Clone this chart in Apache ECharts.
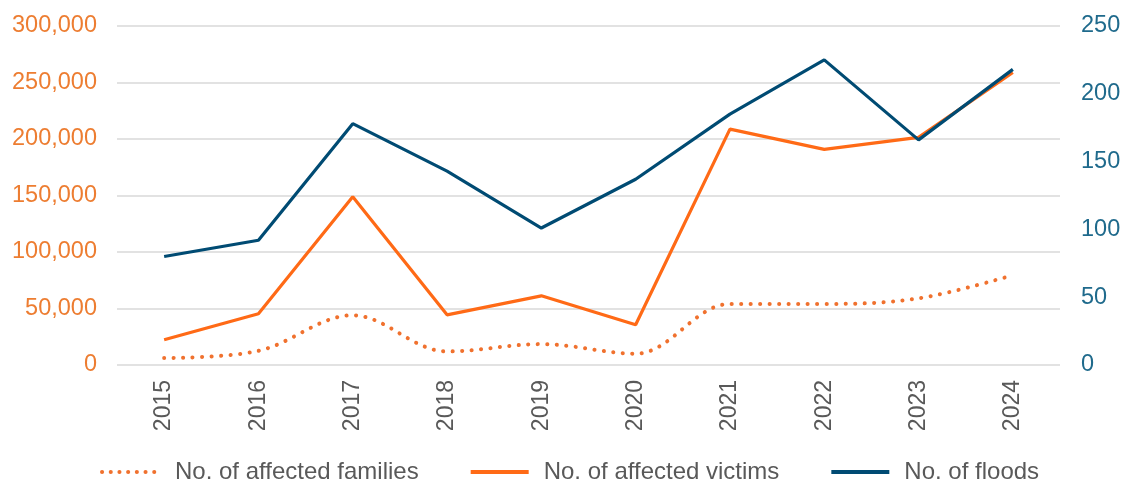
<!DOCTYPE html>
<html>
<head>
<meta charset="utf-8">
<script src="https://cdn.jsdelivr.net/npm/echarts@6/dist/echarts.min.js"></script>
<style>
  html, body { margin: 0; padding: 0; background: #fff; }
  #chart { width: 1124px; height: 484px; }
</style>
</head>
<body>
<div id="chart"></div>
<script>
// Flood impact per year
const years = ['2015', '2016', '2017', '2018', '2019', '2020', '2021', '2022', '2023', '2024'];
const affectedFamilies = [6200, 12500, 44000, 12000, 18500, 10000, 54000, 54000, 59000, 79500];
const affectedVictims = [22400, 45300, 149000, 44400, 61200, 35600, 208700, 190800, 201400, 258800];
const floods = [80, 92, 178, 143, 101, 137, 185, 225, 166, 218];

const leftTicks = { min: 0, max: 300000, interval: 50000 };
const rightTicks = { min: 0, max: 250, interval: 50 };

const FONT = '"Liberation Sans", Arial, sans-serif';
const GREY = '#595959';
const C_FAMILIES = '#F0712E';
const C_VICTIMS = '#FF6A16';
const C_FLOODS = '#004B73';

const chart = echarts.init(document.getElementById('chart'), null, { renderer: 'canvas' });
chart.setOption({
  animation: false,
  backgroundColor: '#ffffff',
  textStyle: { fontFamily: FONT },
  grid: { left: 117, right: 64, top: 26, bottom: 119, containLabel: false },
  legend: {
    bottom: 0,
    left: 100,
    padding: 0,
    itemWidth: 58,
    itemHeight: 14,
    itemGap: 50,
    itemStyle: { opacity: 0 },
    textStyle: { fontFamily: FONT, fontSize: 24, color: GREY, padding: [0, 0, 0, 10] },
    data: [
      { name: 'No. of affected families', lineStyle: { color: C_FAMILIES, width: 4, type: [0.1, 8.6], cap: 'round' } },
      { name: 'No. of affected victims', lineStyle: { color: C_VICTIMS, width: 4 } },
      { name: 'No. of floods', lineStyle: { color: C_FLOODS, width: 4 } }
    ]
  },
  xAxis: {
    type: 'category',
    data: years,
    boundaryGap: true,
    axisLine: { show: false },
    axisTick: { show: false },
    axisLabel: { rotate: 90, margin: 15, fontFamily: FONT, fontSize: 23, color: GREY }
  },
  yAxis: [
    {
      type: 'value',
      position: 'left',
      min: leftTicks.min,
      max: leftTicks.max,
      interval: leftTicks.interval,
      axisLine: { show: false },
      axisTick: { show: false },
      splitLine: { lineStyle: { color: '#D9D9D9', width: 1.5 } },
      axisLabel: {
        margin: 20,
        fontFamily: FONT,
        fontSize: 23.5,
        color: '#ED7D31',
        formatter: v => v.toLocaleString('en-US')
      }
    },
    {
      type: 'value',
      position: 'right',
      min: rightTicks.min,
      max: rightTicks.max,
      interval: rightTicks.interval,
      axisLine: { show: false },
      axisTick: { show: false },
      splitLine: { show: false },
      axisLabel: { margin: 21, fontFamily: FONT, fontSize: 23.5, color: '#1F6A8C' }
    }
  ],
  series: [
    {
      name: 'No. of affected families',
      type: 'line',
      yAxisIndex: 0,
      data: affectedFamilies,
      smooth: 0.35,
      symbol: 'none',
      itemStyle: { color: C_FAMILIES },
      lineStyle: { color: C_FAMILIES, width: 4, type: [0.1, 9.4], cap: 'round' },
      z: 2
    },
    {
      name: 'No. of affected victims',
      type: 'line',
      yAxisIndex: 0,
      data: affectedVictims,
      symbol: 'none',
      itemStyle: { color: C_VICTIMS },
      lineStyle: { color: C_VICTIMS, width: 3.2 },
      z: 3
    },
    {
      name: 'No. of floods',
      type: 'line',
      yAxisIndex: 1,
      data: floods,
      symbol: 'none',
      itemStyle: { color: C_FLOODS },
      lineStyle: { color: C_FLOODS, width: 3.2 },
      z: 4
    }
  ]
});
</script>
</body>
</html>
